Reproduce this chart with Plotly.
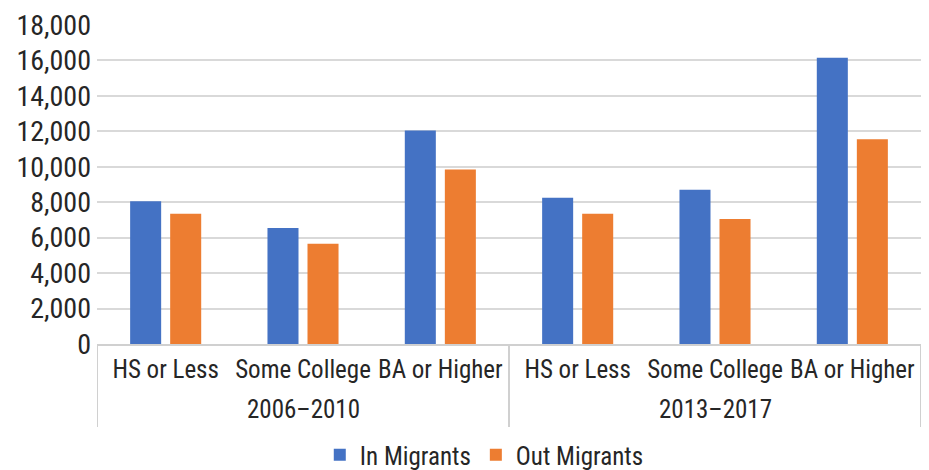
import plotly.graph_objects as go

periods = ["2006–2010", "2013–2017"]
education = ["HS or Less", "Some College", "BA or Higher"]
in_migrants = [8050, 6550, 12050, 8250, 8700, 16150]
out_migrants = [7350, 5650, 9850, 7350, 7050, 11550]
y_ticks = list(range(0, 18001, 2000))

FONT = "Liberation Sans Narrow, Roboto Condensed, Arial Narrow, sans-serif"
TXT = "#262626"
n_ed = len(education)
x_pos = list(range(len(periods) * n_ed))
x_text = education * len(periods)

fig = go.Figure()
fig.add_trace(go.Bar(x=x_pos, y=in_migrants, name="In Migrants",
                     marker=dict(color="#4472C4", line=dict(width=0))))
fig.add_trace(go.Bar(x=x_pos, y=out_migrants, name="Out Migrants",
                     marker=dict(color="#ED7D31", line=dict(width=0))))

# group labels and dividers derived from the category layout
for gi, p in enumerate(periods):
    center = gi * n_ed + (n_ed - 1) / 2
    fig.add_annotation(x=center, xref="x", y=-0.204, yref="paper", text=p,
                       showarrow=False, yanchor="middle",
                       font=dict(size=25, family=FONT, color=TXT))
for gi in range(len(periods) + 1):
    xb = gi * n_ed - 0.5
    fig.add_shape(type="line", xref="x", yref="paper", x0=xb, x1=xb, y0=0, y1=-0.26,
                  line=dict(color="#D0D0D0", width=2))

fig.update_layout(
    width=929, height=470,
    margin=dict(l=97, r=8, t=25, b=126, autoexpand=False),
    paper_bgcolor="white", plot_bgcolor="white",
    barmode="group", bargap=0.417, bargroupgap=0.225,
    font=dict(family=FONT, color=TXT, size=25),
    legend=dict(orientation="h", x=0.47, xanchor="center", y=-0.348, yanchor="middle",
                font=dict(size=25, family=FONT, color=TXT), itemwidth=30, tracegroupgap=0),
    showlegend=True,
)
fig.update_yaxes(range=[0, 18000], tickvals=y_ticks, tickformat=",d",
                 showgrid=True, gridcolor="#D9D9D9", gridwidth=2,
                 zeroline=False, showline=False, ticks="", automargin=False,
                 tickfont=dict(size=28, family=FONT, color=TXT), ticklabelstandoff=5)
fig.update_xaxes(range=[-0.5, len(x_pos) - 0.5], tickvals=x_pos, ticktext=x_text,
                 tickangle=0,
                 showline=True, linecolor="#D0D0D0", linewidth=2, showgrid=False,
                 zeroline=False, ticks="", automargin=False, ticklabelstandoff=2,
                 tickfont=dict(size=25, family=FONT, color=TXT))

fig.write_html("out.html", config={"displayModeBar": False},
               post_script="document.body.style.margin='0';")
